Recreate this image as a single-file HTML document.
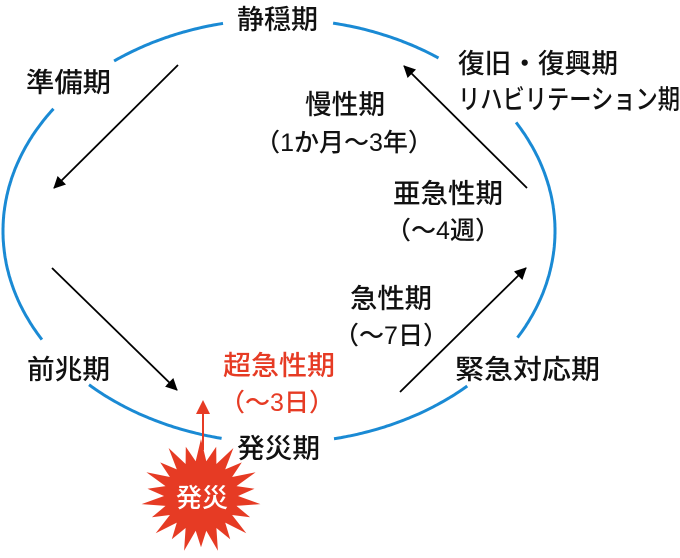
<!DOCTYPE html>
<html><head><meta charset="utf-8"><style>
body{margin:0;background:#fff}
svg text{font-family:"Liberation Sans","Noto Sans CJK JP",sans-serif;font-size:27px;fill:#111;font-weight:500}
svg text.p{font-size:25px}
</style></head><body>
<svg width="680" height="553" viewBox="0 0 680 553" xmlns="http://www.w3.org/2000/svg">
<defs>
<marker id="ah" markerWidth="12" markerHeight="12" refX="11" refY="6" orient="auto" markerUnits="userSpaceOnUse" viewBox="0 0 12 12"><path d="M0,0 L12,6 L0,12 z" fill="#000"/></marker>
</defs>
<path id="ell" fill="none" stroke="#1a8ad4" stroke-width="3"/>
<script>
(function(){var cx=279,cy=231,rx=276,ry=212;var segs=[[-78.7,-54.3],[-30.8,30.4],[47,78.5],[102,133.8],[149.2,215.4],[233.3,258.7]];var d="";segs.forEach(function(s){for(var a=s[0],k=0;a<=s[1]+0.01;a+=0.5,k++){var t=a*Math.PI/180;d+=(k?"L":"M")+(cx+rx*Math.cos(t)).toFixed(1)+","+(cy+ry*Math.sin(t)).toFixed(1);}});document.getElementById('ell').setAttribute('d',d);})();
</script>
<g stroke="#000" stroke-width="1.8" fill="none">
<line x1="178" y1="65" x2="54" y2="188" marker-end="url(#ah)"/>
<line x1="52" y1="268" x2="177" y2="390" marker-end="url(#ah)"/>
<line x1="400" y1="392" x2="526" y2="268" marker-end="url(#ah)"/>
<line x1="527" y1="188" x2="404" y2="66" marker-end="url(#ah)"/>
</g>
<line x1="203" y1="450" x2="203" y2="412" stroke="#e63b24" stroke-width="2"/>
<path d="M196,414 L203,400 L210,414 z" fill="#e63b24"/>
<polygon id="star" fill="#e63b24"/>
<script>
(function(){var cx=201,cy=496,n=22,R=60,r=37,p=[];for(var i=0;i<2*n;i++){var a=Math.PI*i/n-Math.PI/2;var rr=i%2?r:R;if(i%2==0&&(i/2)%2==1)rr=R*0.9;p.push((cx+rr*Math.cos(a)).toFixed(1)+","+(cy+rr*Math.sin(a)*0.95).toFixed(1));}document.getElementById('star').setAttribute('points',p.join(' '));})();
</script>
<text x="176" y="507" textLength="52" lengthAdjust="spacingAndGlyphs" style="fill:#fff;font-size:26px">発災</text>
<text x="237" y="29" textLength="81" lengthAdjust="spacingAndGlyphs">静穏期</text>
<text x="26" y="92" textLength="85" lengthAdjust="spacingAndGlyphs">準備期</text>
<text x="27" y="379" textLength="83" lengthAdjust="spacingAndGlyphs">前兆期</text>
<text x="455" y="379" textLength="145" lengthAdjust="spacingAndGlyphs">緊急対応期</text>
<text x="458" y="73" textLength="160" lengthAdjust="spacingAndGlyphs">復旧・復興期</text>
<text x="458" y="109" textLength="222" lengthAdjust="spacingAndGlyphs">リハビリテーション期</text>
<text x="305" y="114" textLength="80" lengthAdjust="spacingAndGlyphs">慢性期</text>
<text class="p" x="344" y="151" text-anchor="middle">（1か月～3年）</text>
<text x="393" y="203" textLength="110" lengthAdjust="spacingAndGlyphs">亜急性期</text>
<text class="p" x="443" y="239" text-anchor="middle">（～4週）</text>
<text x="350" y="308" textLength="82" lengthAdjust="spacingAndGlyphs">急性期</text>
<text class="p" x="391" y="344" text-anchor="middle">（～7日）</text>
<text x="223" y="375" textLength="112" lengthAdjust="spacingAndGlyphs" style="fill:#e63b24">超急性期</text>
<text class="p" x="277" y="411" text-anchor="middle" style="fill:#e63b24">（～3日）</text>
<text x="237" y="458" textLength="83" lengthAdjust="spacingAndGlyphs">発災期</text>
</svg>
</body></html>
